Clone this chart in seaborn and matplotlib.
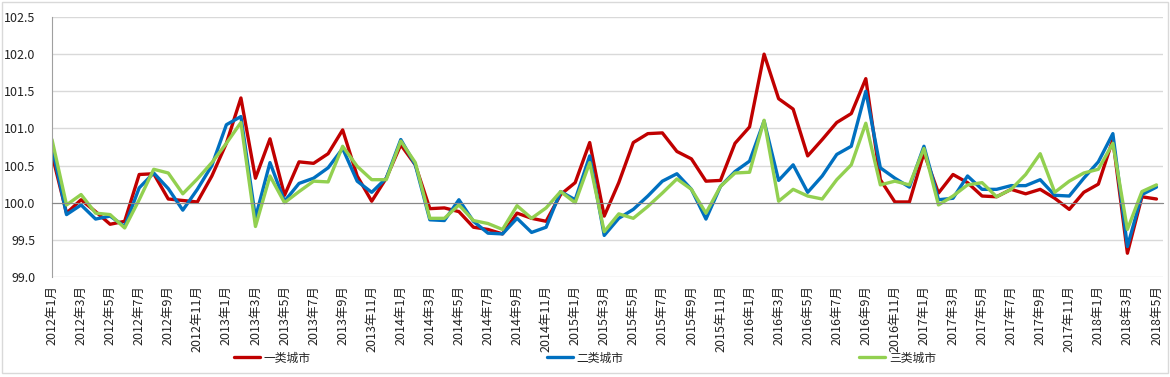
import matplotlib
matplotlib.use("Agg")
import matplotlib.pyplot as plt
import matplotlib.patches as mpatches
import numpy as np
import pandas as pd
import seaborn as sns

# monthly index, Jan 2012 .. May 2018
years = [2012, 2013, 2014, 2015, 2016, 2017, 2018]
month_labels = [f"{y}年{m}月" for y in years for m in range(1, 13)][:77]

tier1 = [100.65, 99.86, 100.04, 99.88, 99.71, 99.75, 100.38, 100.39, 100.05, 100.03, 100.01, 100.36,
         100.80, 101.41, 100.33, 100.86, 100.10, 100.55, 100.53, 100.66, 100.98, 100.36, 100.02, 100.33,
         100.78, 100.51, 99.92, 99.93, 99.88, 99.67, 99.64, 99.58, 99.86, 99.79, 99.75, 100.11,
         100.27, 100.81, 99.82, 100.27, 100.81, 100.93, 100.94, 100.69, 100.59, 100.29, 100.30, 100.80,
         101.02, 102.00, 101.40, 101.26, 100.63, 100.85, 101.08, 101.20, 101.67, 100.31, 100.01, 100.01,
         100.67, 100.13, 100.38, 100.27, 100.09, 100.08, 100.18, 100.12, 100.18, 100.06, 99.91, 100.14,
         100.25, 100.85, 99.32, 100.08, 100.05]
tier2 = [100.75, 99.84, 99.97, 99.78, 99.82, 99.68, 100.20, 100.40, 100.19, 99.90, 100.18, 100.50,
         101.05, 101.16, 99.80, 100.54, 100.02, 100.26, 100.33, 100.47, 100.73, 100.29, 100.14, 100.33,
         100.85, 100.51, 99.77, 99.76, 100.04, 99.75, 99.59, 99.58, 99.79, 99.60, 99.67, 100.15,
         100.04, 100.63, 99.56, 99.79, 99.91, 100.09, 100.29, 100.39, 100.18, 99.78, 100.22, 100.42,
         100.56, 101.10, 100.30, 100.51, 100.14, 100.36, 100.65, 100.76, 101.50, 100.47, 100.33, 100.21,
         100.76, 100.04, 100.06, 100.36, 100.18, 100.18, 100.23, 100.23, 100.31, 100.10, 100.09, 100.33,
         100.55, 100.93, 99.41, 100.11, 100.21]
tier3 = [100.85, 99.97, 100.11, 99.86, 99.84, 99.66, 100.04, 100.45, 100.40, 100.12, 100.32, 100.54,
         100.80, 101.08, 99.68, 100.36, 100.00, 100.15, 100.29, 100.28, 100.76, 100.49, 100.31, 100.31,
         100.83, 100.54, 99.79, 99.79, 99.97, 99.76, 99.72, 99.64, 99.96, 99.79, 99.93, 100.15,
         100.00, 100.54, 99.61, 99.85, 99.79, 99.95, 100.13, 100.32, 100.18, 99.86, 100.22, 100.40,
         100.41, 101.11, 100.02, 100.18, 100.09, 100.05, 100.31, 100.51, 101.07, 100.24, 100.29, 100.24,
         100.73, 99.97, 100.09, 100.24, 100.27, 100.08, 100.18, 100.38, 100.66, 100.14, 100.29, 100.40,
         100.45, 100.80, 99.64, 100.15, 100.24]
series_names = ["一类城市", "二类城市", "三类城市"]
colors = ["#C00000", "#0070C0", "#92D050"]

idx = np.arange(len(month_labels))
df = pd.concat([
    pd.DataFrame({"idx": idx, "value": vals, "城市": name})
    for name, vals in zip(series_names, [tier1, tier2, tier3])
])

sns.set_style("white")
plt.rcParams["font.family"] = ["Noto Sans CJK SC", "DejaVu Sans"]

fig = plt.figure(figsize=(11.7, 3.77), dpi=100)
ax = fig.add_axes([52 / 1170, 1 - 277 / 377, (1163 - 52) / 1170, 260 / 377])

ax.yaxis.grid(True, color="#D9D9D9", linewidth=1)
ax.set_axisbelow(True)

sns.lineplot(data=df, x="idx", y="value", hue="城市", palette=colors,
             linewidth=2.4, ax=ax, sort=False)

ax.set_ylim(99.0, 102.5)
ax.set_xlim(0, 76.45)
ax.set_yticks(np.arange(99.0, 102.51, 0.5))
ax.set_yticklabels([f"{v:.1f}" for v in np.arange(99.0, 102.51, 0.5)])
ax.tick_params(axis="y", length=0, pad=12, labelsize=9, labelcolor="#222222")
ax.set_xlabel("")
ax.set_ylabel("")

for s in ["top", "right"]:
    ax.spines[s].set_visible(False)
ax.spines["left"].set_color("#A0A0A0")
ax.spines["bottom"].set_position(("data", 100))
ax.spines["bottom"].set_color("#888888")
ax.set_xticks(idx)
ax.tick_params(axis="x", length=4, color="#888888", direction="out", labelbottom=False)

sec = ax.secondary_xaxis(0)
sec.set_xticks(idx[::2], labels=month_labels[::2], rotation=90)
sec.tick_params(length=0, pad=6, labelsize=9, labelcolor="#222222")
sec.spines["bottom"].set_visible(False)

handles, labels = ax.get_legend_handles_labels()
ax.get_legend().remove()
fig.legend(handles, labels, loc="center", bbox_to_anchor=(0.5, 1 - 358 / 377), ncol=3,
           frameon=False, fontsize=8.5, columnspacing=20.0, handlelength=2.2,
           handletextpad=0.3)

fig.patches.append(mpatches.Rectangle((0.002, 0.01), 0.996, 0.985, transform=fig.transFigure,
                                      fill=False, edgecolor="#D9D9D9", linewidth=1))

fig.savefig("out.png", dpi=100)
